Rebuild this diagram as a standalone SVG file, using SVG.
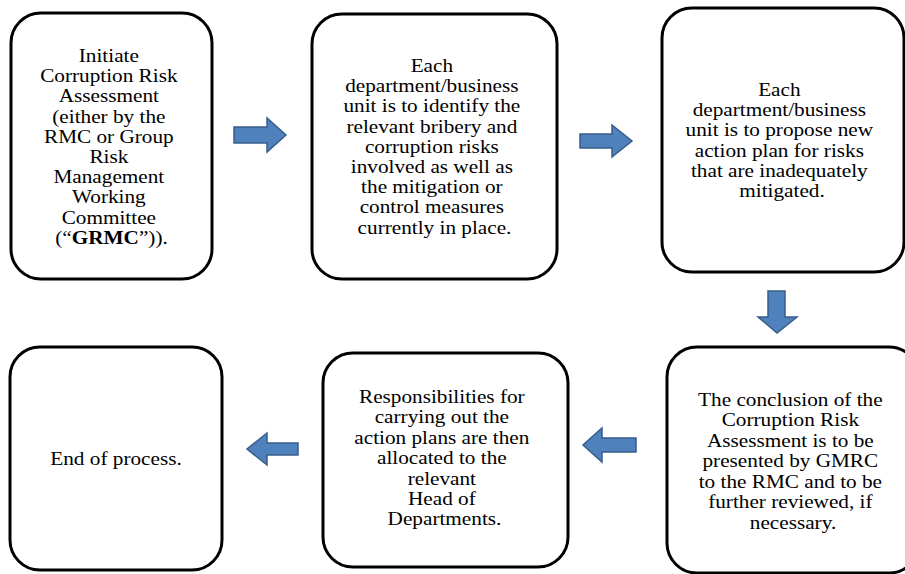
<svg xmlns="http://www.w3.org/2000/svg" width="905" height="574" viewBox="0 0 905 574">
<style>
.box{fill:#fff;stroke:#000;stroke-width:3}
.t{font-family:"Liberation Serif","Times New Roman",serif;font-size:18px;fill:#000;text-anchor:middle}
.arr{fill:#4f81bd;stroke:#385d8a;stroke-width:1.5;stroke-linejoin:miter}
</style>
<rect width="905" height="574" fill="#fff"/>
<g id="node1">
<rect class="box" x="11" y="13" width="201" height="266" rx="30"/>
<text class="t" transform="translate(111.5 0) scale(1.18 1)">
<tspan x="0" y="62">Initiate</tspan>
<tspan x="0" y="82.2">Corruption Risk</tspan>
<tspan x="0" y="102.4">Assessment</tspan>
<tspan x="0" y="122.6">(either by the</tspan>
<tspan x="0" y="142.8">RMC or Group</tspan>
<tspan x="0" y="163">Risk</tspan>
<tspan x="0" y="183.2">Management</tspan>
<tspan x="0" y="203.4">Working</tspan>
<tspan x="0" y="223.6">Committee</tspan>
<tspan x="0" y="243.8">(“<tspan font-weight="bold">GRMC</tspan>”)).</tspan>
</text>
</g>
<g id="node2">
<rect class="box" x="312" y="14" width="245" height="265" rx="30"/>
<text class="t" transform="translate(434.5 0) scale(1.18 1)">
<tspan x="0" y="72">Each</tspan>
<tspan x="0" y="92.2">department/business</tspan>
<tspan x="0" y="112.4">unit is to identify the</tspan>
<tspan x="0" y="132.6">relevant bribery and</tspan>
<tspan x="0" y="152.8">corruption risks</tspan>
<tspan x="0" y="173">involved as well as</tspan>
<tspan x="0" y="193.2">the mitigation or</tspan>
<tspan x="0" y="213.4">control measures</tspan>
<tspan x="0" y="233.6">currently in place.</tspan>
</text>
</g>
<g id="node3">
<rect class="box" x="662" y="8" width="242" height="264" rx="30"/>
<text class="t" transform="translate(782 0) scale(1.18 1)">
<tspan x="0" y="96">Each</tspan>
<tspan x="0" y="116.2">department/business</tspan>
<tspan x="0" y="136.4">unit is to propose new</tspan>
<tspan x="0" y="156.6">action plan for risks</tspan>
<tspan x="0" y="176.8">that are inadequately</tspan>
<tspan x="0" y="197">mitigated.</tspan>
</text>
</g>
<g id="node4">
<rect class="box" x="667" y="347" width="252" height="226" rx="30"/>
<text class="t" transform="translate(793 0) scale(1.18 1)">
<tspan x="0" y="406">The conclusion of the</tspan>
<tspan x="0" y="426.5">Corruption Risk</tspan>
<tspan x="0" y="447">Assessment is to be</tspan>
<tspan x="0" y="467.5">presented by GMRC</tspan>
<tspan x="0" y="488">to the RMC and to be</tspan>
<tspan x="0" y="508.5">further reviewed, if</tspan>
<tspan x="0" y="529">necessary.</tspan>
</text>
</g>
<g id="node5">
<rect class="box" x="323" y="353" width="245" height="214" rx="30"/>
<text class="t" transform="translate(444.5 0) scale(1.18 1)">
<tspan x="0" y="403">Responsibilities for</tspan>
<tspan x="0" y="423.4">carrying out the</tspan>
<tspan x="0" y="443.8">action plans are then</tspan>
<tspan x="0" y="464.2">allocated to the</tspan>
<tspan x="0" y="484.6">relevant</tspan>
<tspan x="0" y="505">Head of</tspan>
<tspan x="0" y="525.4">Departments.</tspan>
</text>
</g>
<g id="node6">
<rect class="box" x="10" y="347" width="212" height="223" rx="30"/>
<text class="t" transform="translate(116 0) scale(1.18 1)">
<tspan x="0" y="465">End of process.</tspan>
</text>
</g>
<g id="connectors">
<polygon class="arr" points="234,127 267,127 267,118 286,135 267,152 267,143 234,143"/>
<polygon class="arr" points="580,134 612,134 612,125 632,141 612,157 612,148 580,148"/>
<polygon class="arr" points="768,291 785,291 785,317 797,317 777,333 758,317 768,317"/>
<polygon class="arr" points="636,438 602,438 602,428 583,445 602,462 602,452 636,452"/>
<polygon class="arr" points="298,443 267,443 267,433 247,449 267,465 267,455 298,455"/>
</g>
</svg>
